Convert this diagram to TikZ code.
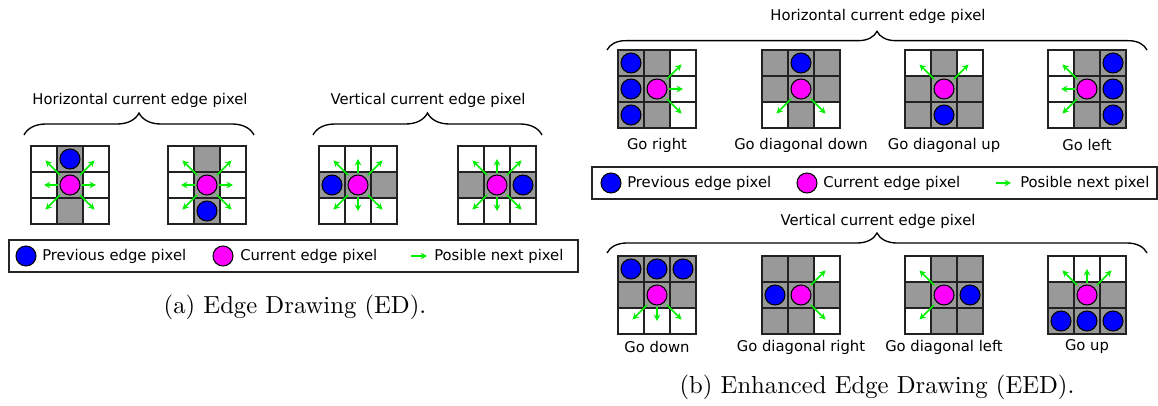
\documentclass[tikz,border=0pt]{standalone}
\usepackage{fontspec}
\setsansfont{DejaVu Sans}
\newfontfamily\capfont{lmroman10-regular.otf}
\usetikzlibrary{arrows.meta,decorations.pathreplacing,calc}
\definecolor{pixgray}{HTML}{999999}
\definecolor{arrgreen}{HTML}{00F000}
\definecolor{pblue}{HTML}{0000FF}
\definecolor{pmag}{HTML}{FF00FF}
\definecolor{gridline}{HTML}{222222}
\tikzset{
  cellline/.style={draw=gridline, line width=1.5pt},
  prevpx/.style={circle, fill=pblue, draw=black, line width=0.8pt, minimum size=15pt, inner sep=0pt},
  curpx/.style={circle, fill=pmag, draw=black, line width=0.8pt, minimum size=15pt, inner sep=0pt},
  nxt/.style={draw=arrgreen, line width=1.2pt, -{Stealth[length=4.8pt,width=4.8pt]}},
  lbl/.style={font=\sffamily\fontsize{11.1}{13}\selectfont, inner sep=0pt},
  legtext/.style={lbl, anchor=west},
  legbox/.style={draw=black!85, line width=1.1pt},
  bracestyle/.style={decorate, decoration={brace, amplitude=#1}, line width=1pt},
  captext/.style={font=\capfont\fontsize{18.5}{22}\selectfont, inner sep=0pt}
}
\newcommand{\pixgrid}[3]{%
  \fill[white] (#1,#2) rectangle ++(78,78);
  \foreach \i/\j in {#3}{\fill[pixgray] ({#1+26*\i},{#2+26*\j}) rectangle ++(26,26);}
  \foreach \k in {1,2}{%
    \draw[cellline] ({#1+26*\k},#2) -- ++(0,78);
    \draw[cellline] (#1,{#2+26*\k}) -- ++(78,0);}
  \draw[cellline] (#1,#2) rectangle ++(78,78);
}
\newcommand{\orth}[2]{\foreach \a in {#2}{\draw[nxt] ($(#1)+(\a:8.8pt)$) -- ($(#1)+(\a:19.5pt)$);}}
\newcommand{\diag}[2]{\foreach \a in {#2}{\draw[nxt] ($(#1)+(\a:10.5pt)$) -- ($(#1)+(\a:26pt)$);}}
\begin{document}
\begin{tikzpicture}[x=0.75pt,y=-0.75pt]
\useasboundingbox (0,0) rectangle (1158,406);

%% ===== (a) Edge Drawing =====
\draw[bracestyle=16.5pt] (24,135) -- (254,135);
\node[lbl] (ahl) at (140,100) {Horizontal current edge pixel};
\draw[bracestyle=16.5pt] (313,135) -- (542,135);
\node[lbl] (avl) at (428,100) {Vertical current edge pixel};

% grid 1
\pixgrid{31}{146}{1/0,1/1,1/2}
\node[prevpx] (a1p) at (70,159) {};
\node[curpx] (a1c) at (70,185) {};
\orth{a1c}{0,180}\diag{a1c}{45,135,225,315}
% grid 2
\pixgrid{168}{146}{1/0,1/1,1/2}
\node[prevpx] (a2p) at (207,211) {};
\node[curpx] (a2c) at (207,185) {};
\orth{a2c}{0,180}\diag{a2c}{45,135,225,315}
% grid 3
\pixgrid{319}{146}{0/1,1/1,2/1}
\node[prevpx] (a3p) at (332,185) {};
\node[curpx] (a3c) at (358,185) {};
\orth{a3c}{90,270}\diag{a3c}{45,135,225,315}
% grid 4
\pixgrid{458}{146}{0/1,1/1,2/1}
\node[prevpx] (a4p) at (523,185) {};
\node[curpx] (a4c) at (497,185) {};
\orth{a4c}{90,270}\diag{a4c}{45,135,225,315}

% legend a
\draw[legbox] (9,240) rectangle (578,272);
\node[prevpx] (alp) at (26,256) {};
\node[legtext] (alpt) at (42,256) {Previous edge pixel};
\node[curpx] (alc) at (223,256) {};
\node[legtext] (alct) at (240,256) {Current edge pixel};
\coordinate (alas) at (411,256);
\coordinate (alae) at (427,256);
\draw[nxt] (alas) -- (alae);
\node[legtext] (alat) at (434,256) {Posible next pixel};

\node[captext] (capa) at (295,307) {(a) Edge Drawing (ED).};

%% ===== (b) Enhanced Edge Drawing =====
\draw[bracestyle=14pt] (607,50) -- (1147,50);
\node[lbl] (bhl) at (878,16) {Horizontal current edge pixel};

% Go right
\pixgrid{618}{50}{0/0,0/1,0/2,1/0,1/1,1/2}
\node[prevpx] (b1p1) at (631,63) {};
\node[prevpx] (b1p2) at (631,89) {};
\node[prevpx] (b1p3) at (631,115) {};
\node[curpx] (b1c) at (657,89) {};
\orth{b1c}{0}\diag{b1c}{45,315}
\node[lbl] (b1l) at (657,145) {Go right};
% Go diagonal down
\pixgrid{762}{50}{0/0,1/0,2/0,0/1,1/1,2/1,1/2}
\node[prevpx] (b2p) at (801,63) {};
\node[curpx] (b2c) at (801,89) {};
\diag{b2c}{225,315}
\node[lbl] (b2l) at (801,145) {Go diagonal down};
% Go diagonal up
\pixgrid{905}{50}{1/0,0/1,1/1,2/1,0/2,1/2,2/2}
\node[prevpx] (b3p) at (944,115) {};
\node[curpx] (b3c) at (944,89) {};
\diag{b3c}{45,135}
\node[lbl] (b3l) at (944,145) {Go diagonal up};
% Go left
\pixgrid{1048}{50}{1/0,1/1,1/2,2/0,2/1,2/2}
\node[prevpx] (b4p1) at (1113,63) {};
\node[prevpx] (b4p2) at (1113,89) {};
\node[prevpx] (b4p3) at (1113,115) {};
\node[curpx] (b4c) at (1087,89) {};
\orth{b4c}{180}\diag{b4c}{135,225}
\node[lbl] (b4l) at (1087,145) {Go left};

% legend b
\draw[legbox] (592,167) rectangle (1157,199);
\node[prevpx] (blp) at (611,183) {};
\node[legtext] (blpt) at (627,183) {Previous edge pixel};
\node[curpx] (blc) at (807,183) {};
\node[legtext] (blct) at (823,183) {Current edge pixel};
\coordinate (blas) at (996,183);
\coordinate (blae) at (1011,183);
\draw[nxt] (blas) -- (blae);
\node[legtext] (blat) at (1020,183) {Posible next pixel};

\draw[bracestyle=15pt] (607,253) -- (1147,253);
\node[lbl] (bvl) at (878,221) {Vertical current edge pixel};

% Go down
\pixgrid{618}{256}{0/0,1/0,2/0,0/1,1/1,2/1}
\node[prevpx] (c1p1) at (631,269) {};
\node[prevpx] (c1p2) at (657,269) {};
\node[prevpx] (c1p3) at (683,269) {};
\node[curpx] (c1c) at (657,295) {};
\orth{c1c}{270}\diag{c1c}{225,315}
\node[lbl] (c1l) at (657,347) {Go down};
% Go diagonal right
\pixgrid{762}{256}{0/0,1/0,0/1,1/1,2/1,0/2,1/2}
\node[prevpx] (c2p) at (775,295) {};
\node[curpx] (c2c) at (801,295) {};
\diag{c2c}{45,315}
\node[lbl] (c2l) at (801,347) {Go diagonal right};
% Go diagonal left
\pixgrid{905}{256}{1/0,2/0,0/1,1/1,2/1,1/2,2/2}
\node[prevpx] (c3p) at (970,295) {};
\node[curpx] (c3c) at (944,295) {};
\diag{c3c}{135,225}
\node[lbl] (c3l) at (944,347) {Go diagonal left};
% Go up
\pixgrid{1048}{256}{0/1,1/1,2/1,0/2,1/2,2/2}
\node[prevpx] (c4p1) at (1061,321) {};
\node[prevpx] (c4p2) at (1087,321) {};
\node[prevpx] (c4p3) at (1113,321) {};
\node[curpx] (c4c) at (1087,295) {};
\orth{c4c}{90}\diag{c4c}{45,135}
\node[lbl] (c4l) at (1087,347) {Go up};

\node[captext] (capb) at (877,387) {(b) Enhanced Edge Drawing (EED).};
\end{tikzpicture}
\end{document}
